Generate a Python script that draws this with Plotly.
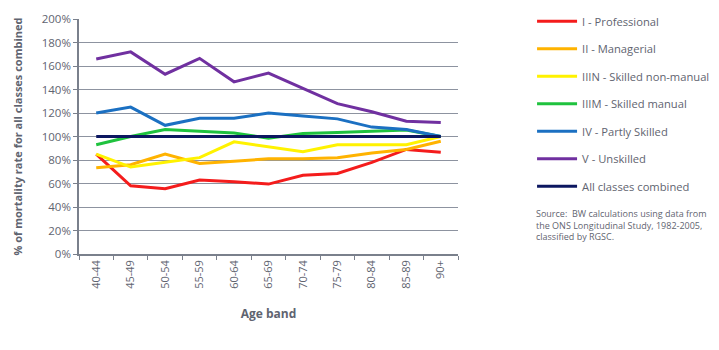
import plotly.graph_objects as go

age_bands = ["40-44", "45-49", "50-54", "55-59", "60-64", "65-69", "70-74", "75-79", "80-84", "85-89", "90+"]

professional = [85, 58, 55.5, 63, 61.5, 59.5, 67, 68.5, 78, 89, 86.5]
managerial = [73.5, 76, 85, 77, 79, 81, 81, 82, 86, 89, 96]
skilled_non_manual = [85, 74, 78, 82, 95.5, 91, 87, 93, 93, 93, 100]
skilled_manual = [93, 100, 106, 104.5, 103, 98.5, 102.5, 103.5, 104.5, 105.5, 100]
partly_skilled = [120, 125, 109.5, 115.5, 115.5, 120, 117.5, 115, 108, 106, 100]
unskilled = [166, 172, 153, 166.5, 146.5, 154, 141, 128, 121, 113, 112]
all_classes = [100, 100, 100, 100, 100, 100, 100, 100, 100, 100, 100]

series_names = ["I - Professional", "II - Managerial", "IIIN - Skilled non-manual",
                "IIIM - Skilled manual", "IV - Partly Skilled", "V - Unskilled",
                "All classes combined"]
series_values = [professional, managerial, skilled_non_manual, skilled_manual,
                 partly_skilled, unskilled, all_classes]
colors = ["#f41c1c", "#ffb300", "#fff200", "#1fc23e", "#1b70c2", "#7030a0", "#0c1760"]

y_ticks = [0, 20, 40, 60, 80, 100, 120, 140, 160, 180, 200]

GRAY = "#5f6470"
FONT = "Open Sans, Noto Sans, sans-serif"

fig = go.Figure()
for i in range(len(series_names)):
    fig.add_trace(go.Scatter(
        x=age_bands, y=series_values[i], name=series_names[i],
        mode="lines", line=dict(color=colors[i], width=3),
        legendgroup=str(i), legendrank=i + 1,
    ))

fig.update_layout(
    width=719, height=350,
    margin=dict(l=79, r=261, t=19, b=96, autoexpand=False),
    paper_bgcolor="white", plot_bgcolor="white",
    font=dict(family=FONT, color=GRAY, size=11),
    showlegend=True,
    legend=dict(
        xref="container", yref="container",
        x=0.74, y=0.981, xanchor="left", yanchor="top",
        font=dict(size=11.2, color=GRAY, family=FONT),
        tracegroupgap=8.5, traceorder="grouped",
        itemwidth=40, maxheight=340,
    ),
    xaxis=dict(
        type="category", tickangle=-90, tickson="boundaries",
        ticks="outside", ticklen=4, tickcolor="#7a808c",
        showline=True, linecolor="#7a808c", linewidth=1.5,
        showgrid=False, tickfont=dict(size=11, color=GRAY),
        title=dict(text="<b>Age band</b>", font=dict(size=12, color=GRAY), standoff=22),
        range=[-0.5, 10.5],
    ),
    yaxis=dict(
        range=[0, 200], tickvals=y_ticks, ticktext=[f"{v}%" for v in y_ticks],
        showgrid=True, gridcolor="#8d93a0", gridwidth=1.2,
        showline=True, linecolor="#7a808c", linewidth=1.5,
        ticks="outside", ticklen=4, tickcolor="#7a808c",
        tickfont=dict(size=11.5, color=GRAY), zeroline=False,
        title=dict(text="<b>% of mortality rate for all classes combined</b>",
                   font=dict(size=11, color=GRAY), standoff=17),
    ),
)
fig.add_annotation(
    xref="paper", yref="paper", x=1.2, y=0.21, xanchor="left", yanchor="top",
    align="left", showarrow=False,
    text="Source:  BW calculations using data from<br>the ONS Longitudinal Study, 1982-2005,<br>classified by RGSC.",
    font=dict(size=9, color=GRAY, family=FONT),
)
fig.write_html("out.html")
